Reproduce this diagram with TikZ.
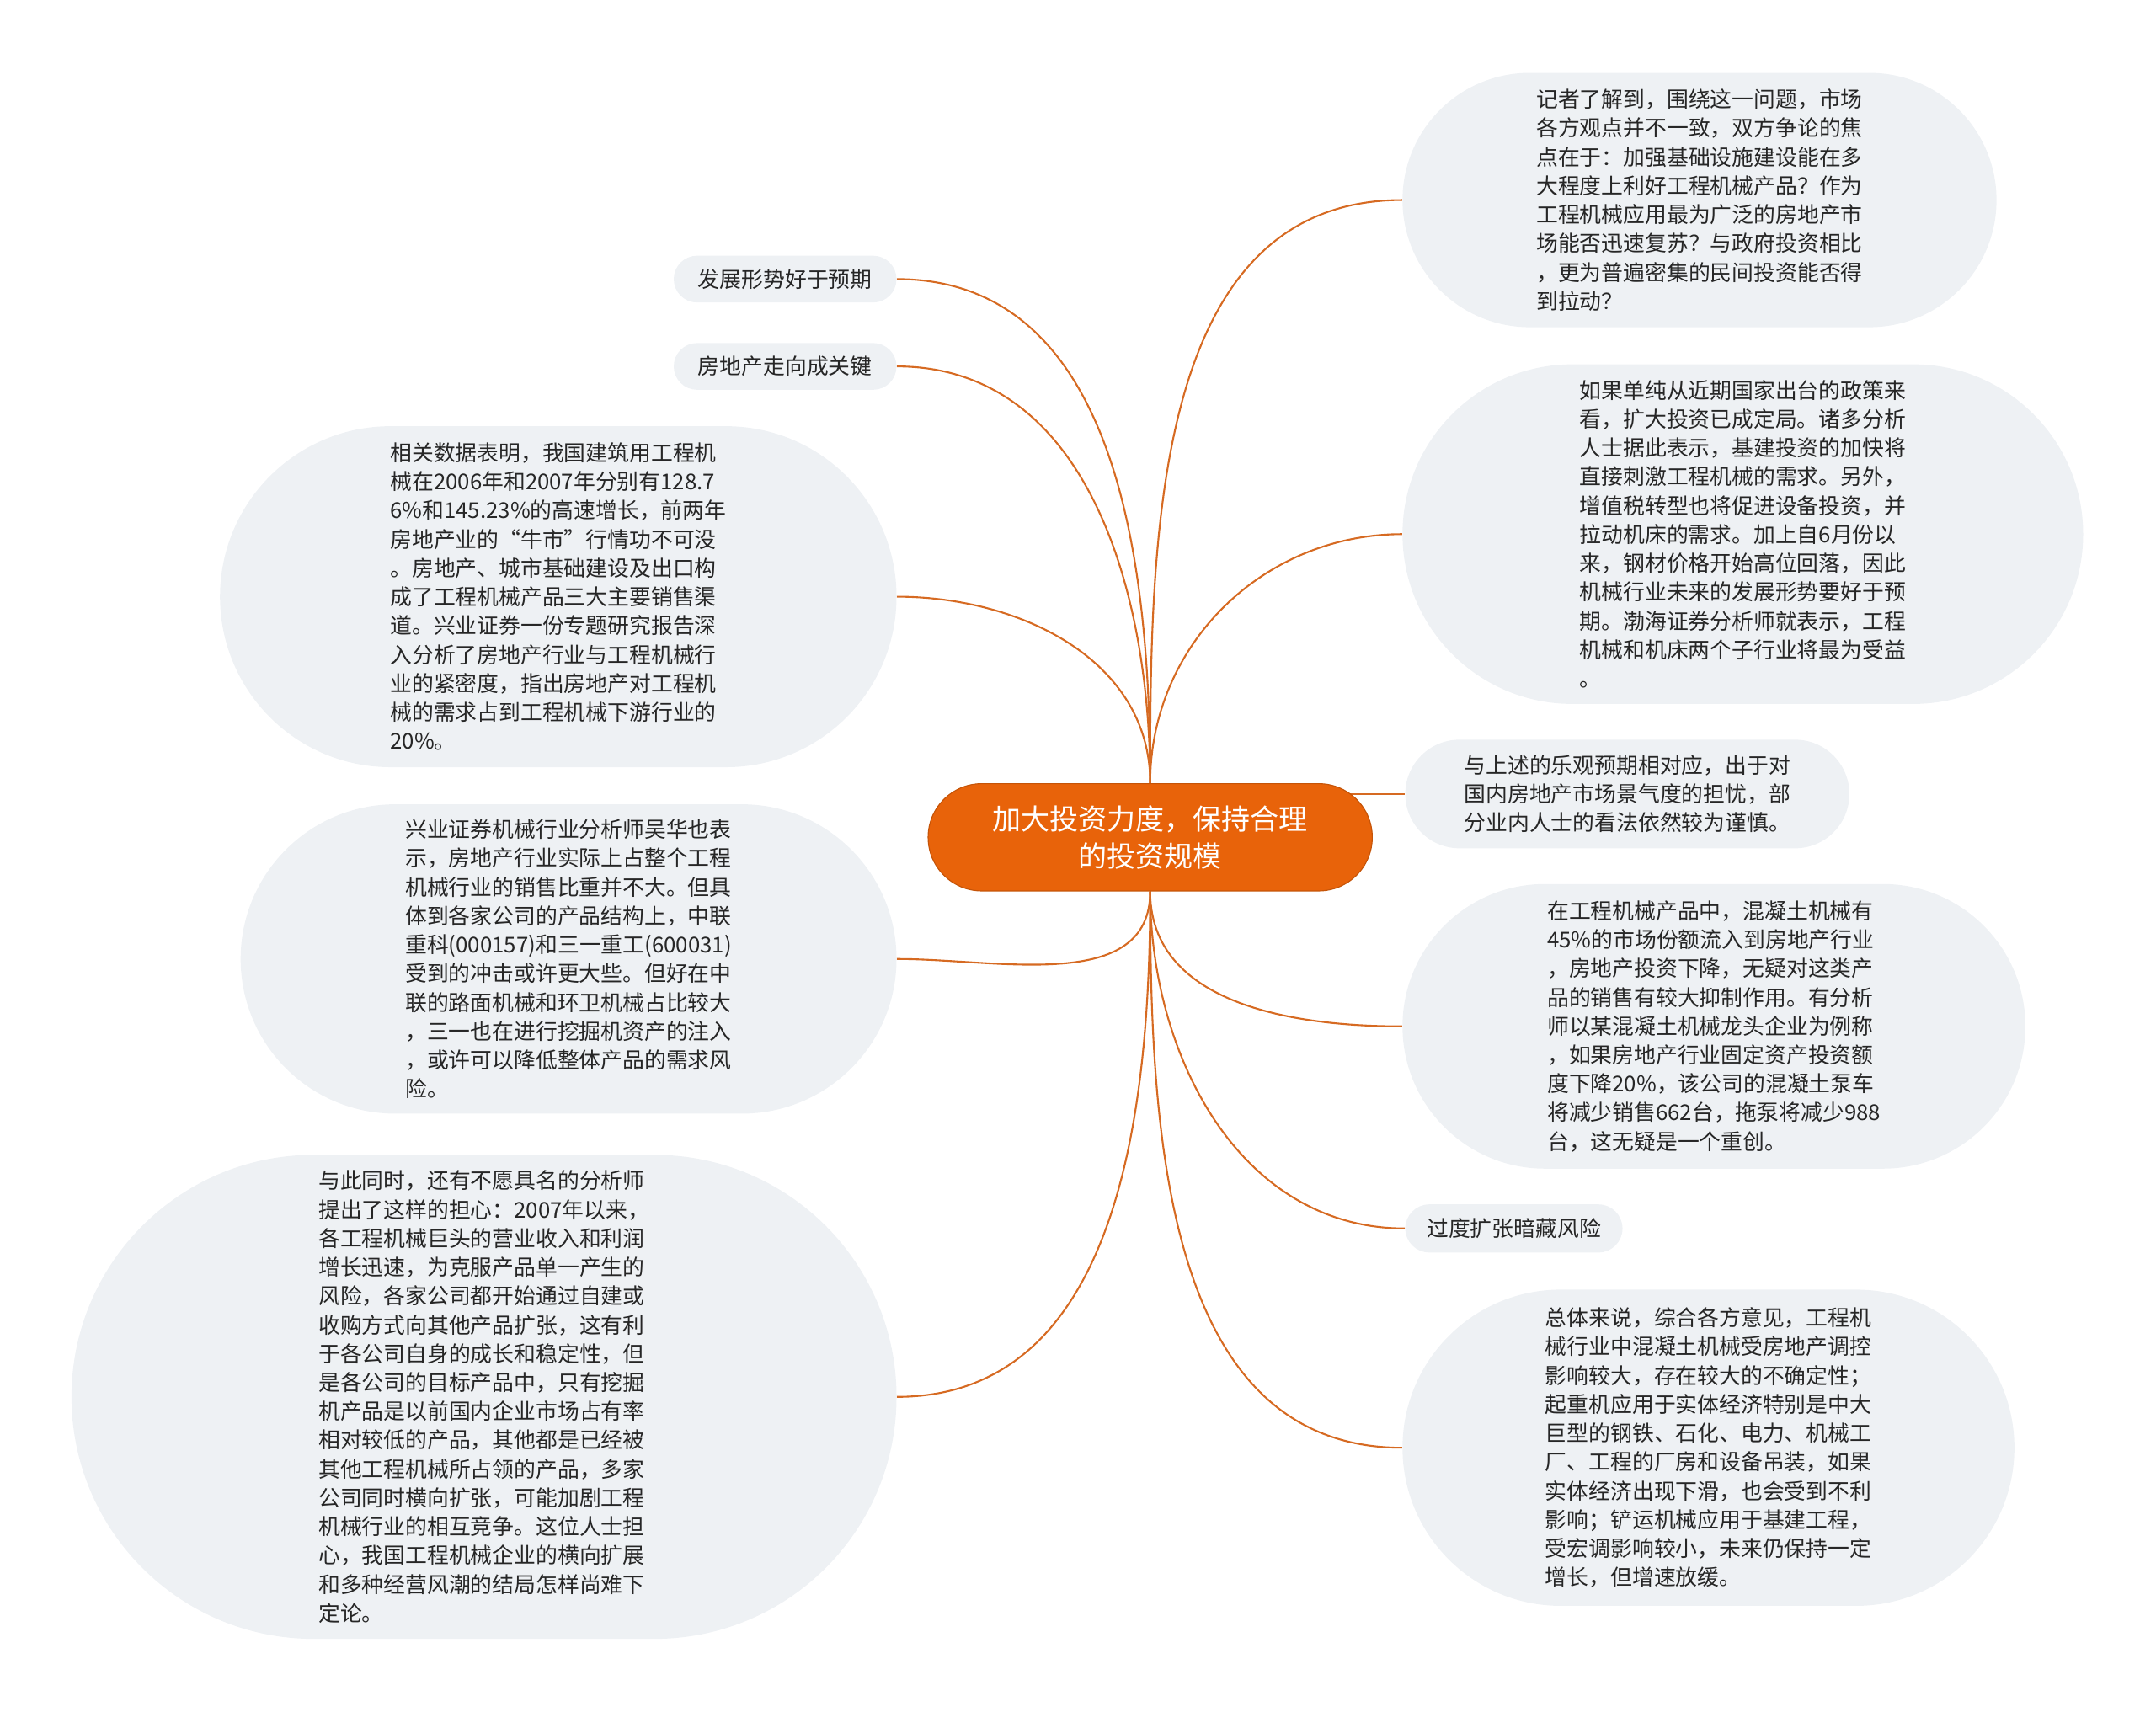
\documentclass[tikz,border=0pt]{standalone}
\usepackage{fontspec}
\setmainfont{Noto Sans CJK SC}
\usetikzlibrary{shapes.misc,backgrounds}
\definecolor{mainorange}{HTML}{E8630A}
\definecolor{linkcol}{HTML}{D66A22}
\definecolor{bubblefill}{HTML}{EEF1F4}
\definecolor{bodytext}{HTML}{262626}

\begin{document}
\begin{tikzpicture}[x=0.03cm,y=-0.03cm,
  bubble/.style={rounded rectangle, fill=bubblefill, inner xsep=0pt, inner ysep=0pt,
    align=left, text=bodytext, font=\fontsize{13.5pt}{17.9pt}\selectfont},
  topic/.style={rounded rectangle, fill=mainorange, draw=mainorange!85!black, line width=0.6pt,
    inner xsep=0pt, text=white, align=center, font=\fontsize{17.8pt}{23pt}\selectfont},
  link/.style={draw=linkcol, line width=1.1pt}]
\useasboundingbox (0,0) rectangle (1568,1245);

% --- central topic ---
\node[topic, minimum width=9.69cm, minimum height=2.34cm] (ctr) at (836.5,609)
  {加大投资力度，保持合理\\的投资规模};

% --- right side ---
\node[bubble, minimum width=12.96cm, minimum height=5.55cm] (r1) at (1236,145.5)
  {记者了解到，围绕这一问题，市场\\各方观点并不一致，双方争论的焦\\点在于：加强基础设施建设能在多\\大程度上利好工程机械产品？作为\\工程机械应用最为广泛的房地产市\\场能否迅速复苏？与政府投资相比\\，更为普遍密集的民间投资能否得\\到拉动？};
\node[bubble, minimum width=14.85cm, minimum height=7.41cm] (r2) at (1267.5,388.5)
  {如果单纯从近期国家出台的政策来\\看，扩大投资已成定局。诸多分析\\人士据此表示，基建投资的加快将\\直接刺激工程机械的需求。另外，\\增值税转型也将促进设备投资，并\\拉动机床的需求。加上自6月份以\\来，钢材价格开始高位回落，因此\\机械行业未来的发展形势要好于预\\期。渤海证券分析师就表示，工程\\机械和机床两个子行业将最为受益\\。};
\node[bubble, minimum width=9.69cm, minimum height=2.37cm] (r3) at (1183.5,577.5)
  {与上述的乐观预期相对应，出于对\\国内房地产市场景气度的担忧，部\\分业内人士的看法依然较为谨慎。};
\node[bubble, minimum width=13.59cm, minimum height=6.21cm] (r4) at (1246.5,746.5)
  {在工程机械产品中，混凝土机械有\\45\%的市场份额流入到房地产行业\\，房地产投资下降，无疑对这类产\\品的销售有较大抑制作用。有分析\\师以某混凝土机械龙头企业为例称\\，如果房地产行业固定资产投资额\\度下降20\%，该公司的混凝土泵车\\将减少销售662台，拖泵将减少988\\台，这无疑是一个重创。};
\node[bubble, minimum width=4.74cm, minimum height=1.05cm] (r5) at (1101,893.5)
  {过度扩张暗藏风险};
\node[bubble, minimum width=13.35cm, minimum height=6.90cm] (r6) at (1242.5,1053)
  {总体来说，综合各方意见，工程机\\械行业中混凝土机械受房地产调控\\影响较大，存在较大的不确定性；\\起重机应用于实体经济特别是中大\\巨型的钢铁、石化、电力、机械工\\厂、工程的厂房和设备吊装，如果\\实体经济出现下滑，也会受到不利\\影响；铲运机械应用于基建工程，\\受宏调影响较小，未来仍保持一定\\增长，但增速放缓。};

% --- left side ---
\node[bubble, minimum width=4.86cm, minimum height=1.02cm] (l1) at (571,203)
  {发展形势好于预期};
\node[bubble, minimum width=4.86cm, minimum height=1.02cm] (l2) at (571,266.5)
  {房地产走向成关键};
\node[bubble, minimum width=14.76cm, minimum height=7.44cm] (l3) at (406,434)
  {相关数据表明，我国建筑用工程机\\械在2006年和2007年分别有128.7\\6\%和145.23\%的高速增长，前两年\\房地产业的“牛市”行情功不可没\\。房地产、城市基础建设及出口构\\成了工程机械产品三大主要销售渠\\道。兴业证券一份专题研究报告深\\入分析了房地产行业与工程机械行\\业的紧密度，指出房地产对工程机\\械的需求占到工程机械下游行业的\\20\%。};
\node[bubble, minimum width=14.31cm, minimum height=6.75cm] (l4) at (413.5,697.5)
  {兴业证券机械行业分析师吴华也表\\示，房地产行业实际上占整个工程\\机械行业的销售比重并不大。但具\\体到各家公司的产品结构上，中联\\重科(000157)和三一重工(600031)\\受到的冲击或许更大些。但好在中\\联的路面机械和环卫机械占比较大\\，三一也在进行挖掘机资产的注入\\，或许可以降低整体产品的需求风\\险。};
\node[bubble, minimum width=18.0cm, minimum height=10.56cm] (l5) at (352,1016)
  {与此同时，还有不愿具名的分析师\\提出了这样的担心：2007年以来，\\各工程机械巨头的营业收入和利润\\增长迅速，为克服产品单一产生的\\风险，各家公司都开始通过自建或\\收购方式向其他产品扩张，这有利\\于各公司自身的成长和稳定性，但\\是各公司的目标产品中，只有挖掘\\机产品是以前国内企业市场占有率\\相对较低的产品，其他都是已经被\\其他工程机械所占领的产品，多家\\公司同时横向扩张，可能加剧工程\\机械行业的相互竞争。这位人士担\\心，我国工程机械企业的横向扩展\\和多种经营风潮的结局怎样尚难下\\定论。};

% --- connectors ---
\begin{pgfonlayer}{background}
\foreach \t in {r1,r2} \draw[link] (ctr.north) to[out=90,in=180] (\t.west);
\foreach \t in {l1,l2,l3} \draw[link] (ctr.north) to[out=90,in=0] (\t.east);
\draw[link] (ctr.center |- r3.west) -- (r3.west);
\foreach \t in {r4,r5,r6} \draw[link] (ctr.south) to[out=-90,in=180] (\t.west);
\foreach \t in {l4,l5} \draw[link] (ctr.south) to[out=-90,in=0] (\t.east);
\end{pgfonlayer}
\end{tikzpicture}
\end{document}
